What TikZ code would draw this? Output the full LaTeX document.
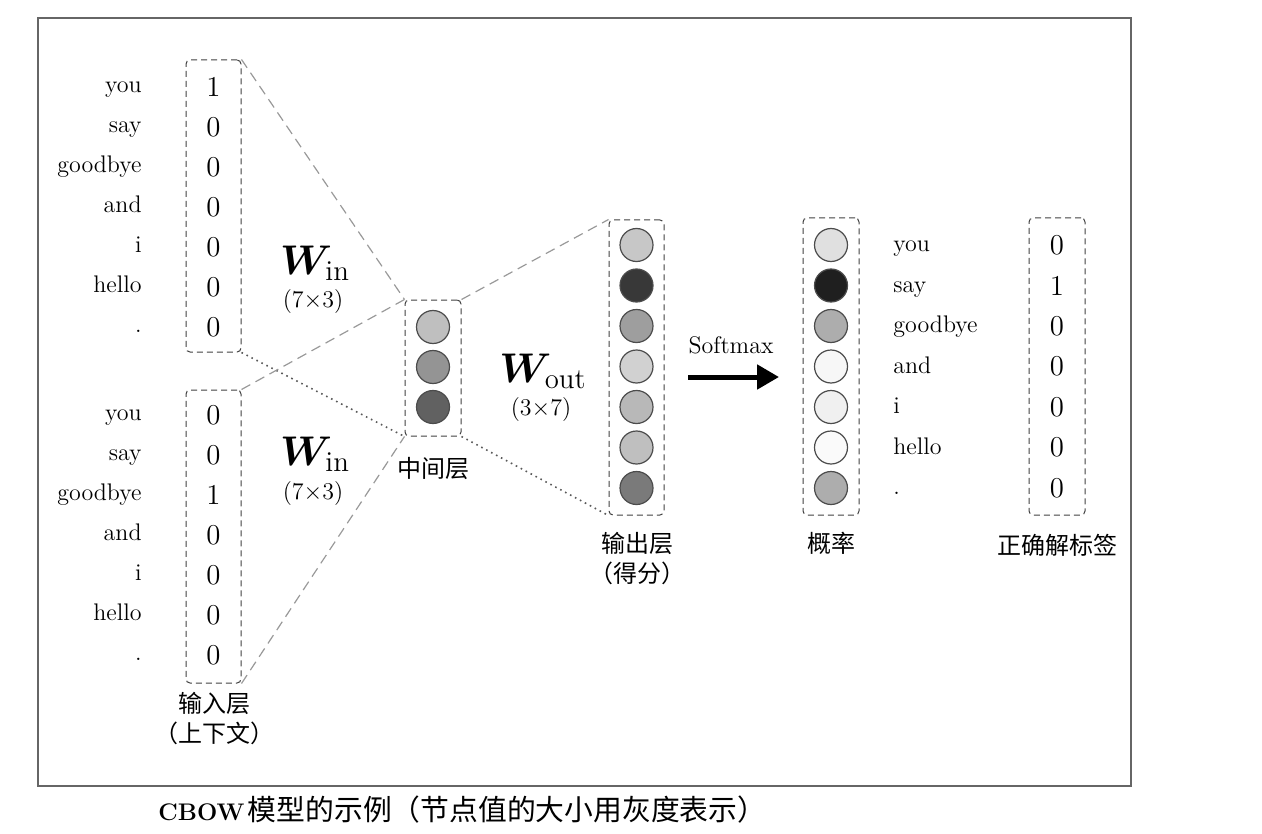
\documentclass[tikz,border=0pt]{standalone}
\usepackage{amsmath}
\usepackage{bm}
\usepackage{fontspec}
\newfontfamily\cjk{Noto Sans CJK SC}
\usepackage{tikz}
\usetikzlibrary{arrows.meta}

\begin{document}
\begin{tikzpicture}[x=0.5pt,y=-0.5pt,
vecbox/.style={draw=black!75,densely dashed,line width=0.5pt,rounded corners=2pt,minimum width=27.5pt,inner sep=0pt},
unit/.style={circle,draw=black!70,line width=0.6pt,minimum size=16.5pt,inner sep=0pt,fill=black!#1},
word/.style={font=\large,text height=1.6ex,text depth=0.5ex,inner sep=0pt},
digit/.style={font=\Large,inner sep=0pt},
layername/.style={font=\cjk\large,inner sep=0pt},
wlink/.style={draw=black!40,dash pattern=on 5pt off 3pt,line width=0.6pt},
dlink/.style={draw=black!65,dotted,line width=0.8pt}]
\useasboundingbox (0,0) rectangle (1262,834);
\draw[black!60,line width=0.8pt] (38,18) rectangle (1131,786);
\node[vecbox,minimum height=146pt] (in1) at (213.5,206) {};
\node[vecbox,minimum height=146.5pt] (in2) at (213.5,536.5) {};
\node[vecbox,minimum height=68pt,minimum width=28pt] (hid) at (433,368) {};
\node[vecbox,minimum height=147.5pt] (out) at (636.5,367.5) {};
\node[vecbox,minimum height=148.5pt,minimum width=28pt] (prob) at (831,366.5) {};
\node[vecbox,minimum height=148.5pt,minimum width=28pt] (lab) at (1057,366.5) {};
\foreach \k/\w in %
{0/you,1/say,2/goodbye,3/and,4/i,5/hello,6/.} {
   \node[word,anchor=east] (wa\k) at (142,88+40*\k) {\w};
   \node[word,anchor=east] (wb\k) at (142,416+40*\k) {\w};
   \node[word,anchor=west] (wc\k) at (893,247+40.5*\k) {\w};
}
\foreach \k/\a/\b/\c in %
{0/1/0/0,1/0/0/1,2/0/1/0,3/0/0/0,4/0/0/0,5/0/0/0,6/0/0/0} {
   \node[digit] (xa\k) at (213.5,87+40*\k) {\a};
   \node[digit] (xb\k) at (213.5,415+40*\k) {\b};
   \node[digit] (t\k) at (1057,245+40.5*\k) {\c};
}
\foreach \k/\g in {0/25,1/42,2/62} {
   \node[unit=\g] (h\k) at (433,327+40*\k) {};
}
\foreach \k/\g/\p in %
{0/22/12,1/78/88,2/38/32,3/18/3,4/28/6,5/25/2,6/52/32} {
   \node[unit=\g] (s\k) at (636.5,245+40.5*\k) {};
   \node[unit=\p] (p\k) at (831,245+40.5*\k) {};
}
\draw[wlink] (in1.north east) -- (hid.north west);
\draw[dlink] (in1.south east) -- (hid.south west);
\draw[wlink] (in2.north east) -- (hid.north west);
\draw[wlink] (in2.south east) -- (hid.south west);
\draw[wlink] (hid.north east) -- (out.north west);
\draw[dlink] (hid.south east) -- (out.south west);
\node[font=\huge,anchor=base] (win1) at (315,274) {$\boldsymbol{W}_{\mathrm{in}}$};
\node[font=\large] (dwin1) at (313,301) {$(7{\times}3)$};
\node[font=\huge,anchor=base] (win2) at (315,465) {$\boldsymbol{W}_{\mathrm{in}}$};
\node[font=\large] (dwin2) at (313,493) {$(7{\times}3)$};
\node[font=\huge,anchor=base] (wout) at (543,382) {$\boldsymbol{W}_{\mathrm{out}}$};
\node[font=\large] (dwout) at (541,409) {$(3{\times}7)$};
\node[font=\large] (smx) at (731,345) {Softmax};
\coordinate (a0) at (688,377);
\coordinate (a1) at (779,377);
\draw[-{Triangle[length=11pt,width=12pt]},line width=2.5pt] (a0) -- (a1);
\node[layername] (inname) at (214,703) {输入层};
\node[layername] (inname2) at (214,733) {（上下文）};
\node[layername] (hidname) at (433,468) {中间层};
\node[layername] (outname) at (637,543) {输出层};
\node[layername] (outname2) at (637,573) {（得分）};
\node[layername] (probname) at (831,543) {概率};
\node[layername] (labname) at (1057,545) {正确解标签};
\node[anchor=west,inner sep=0pt] (caption) at (158,810) {{\large\bfseries CBOW}\,{\cjk\Large 模型的示例（节点值的大小用灰度表示）}};
\end{tikzpicture}
\end{document}
